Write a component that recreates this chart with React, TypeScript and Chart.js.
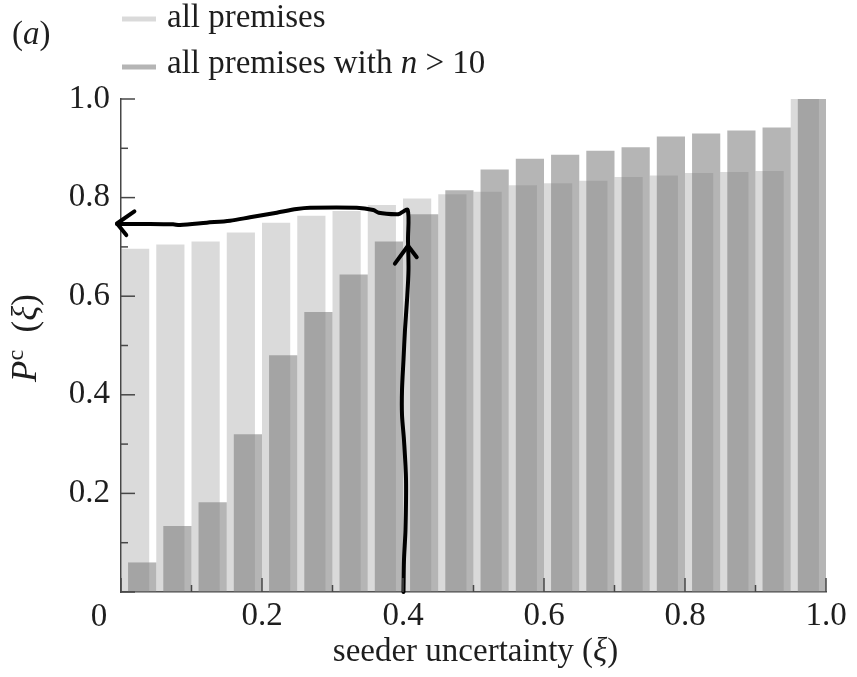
import React, { useEffect, useRef } from 'react';
import { Chart, registerables } from 'chart.js';

Chart.register(...registerables);

// ---- data ----
const binCenters = [
  0.025, 0.075, 0.125, 0.175, 0.225, 0.275, 0.325, 0.375, 0.425, 0.475,
  0.525, 0.575, 0.625, 0.675, 0.725, 0.775, 0.825, 0.875, 0.925, 0.975,
];
const allPremises = [
  0.696, 0.705, 0.711, 0.729, 0.749, 0.763, 0.773, 0.785, 0.798, 0.807,
  0.812, 0.825, 0.829, 0.834, 0.842, 0.845, 0.85, 0.852, 0.854, 1.0,
];
const premisesN10 = [
  0.06, 0.134, 0.182, 0.32, 0.48, 0.568, 0.644, 0.711, 0.766, 0.815,
  0.857, 0.879, 0.887, 0.895, 0.902, 0.924, 0.93, 0.936, 0.942, 1.0,
];
const tickMarks = [0, 0.1, 0.2, 0.3, 0.4, 0.5, 0.6, 0.7, 0.8, 0.9, 1.0];

// hand-drawn arrow annotation (data space)
const arrowX = [
  0.4007, 0.4014, 0.4035, 0.4043, 0.4014, 0.3986, 0.3986, 0.4007, 0.4028, 0.4057,
  0.4078, 0.4071, 0.4067, 0.3957, 0.3911, 0.3655, 0.3579, 0.3343, 0.2681, 0.2492,
  0.2209, 0.183, 0.1546, 0.1216, 0.0837, 0.0738, 0.0411, -0.0057,
];
const arrowY = [
  0.0, 0.0649, 0.1258, 0.2272, 0.3083, 0.359, 0.4097, 0.4706, 0.5314, 0.5923,
  0.6531, 0.714, 0.7748, 0.7677, 0.7661, 0.7694, 0.7748, 0.7795, 0.7795, 0.7769,
  0.7694, 0.76, 0.7531, 0.7491, 0.7444, 0.7458, 0.7465, 0.7465,
];
const leftHeadX = [0.019, -0.0057, 0.0075];
const leftHeadY = [0.772, 0.7475, 0.724];
const upHeadX = [0.3885, 0.4071, 0.4195];
const upHeadY = [0.666, 0.7024, 0.679];

const legendLabels = ['all premises', 'all premises with '];

// ---- styles ----
const SERIF = '"Liberation Serif", "DejaVu Serif", "Times New Roman", serif';
const TEXT = '#1e1e1e';
const AXIS = '#474747';
const LIGHT = 'rgba(118,118,118,0.27)';
const DARK = 'rgba(118,118,118,0.54)';
const FS = 33;

type Run = { t: string; font: string; dy?: number };

function drawRuns(ctx: CanvasRenderingContext2D, runs: Run[], x: number, y: number, align: 'left' | 'center') {
  let total = 0;
  const widths = runs.map((r) => {
    ctx.font = r.font;
    const w = ctx.measureText(r.t).width;
    total += w;
    return w;
  });
  let cx = align === 'center' ? x - total / 2 : x;
  ctx.textAlign = 'left';
  ctx.textBaseline = 'alphabetic';
  runs.forEach((r, i) => {
    ctx.font = r.font;
    ctx.fillText(r.t, cx, y + (r.dy || 0));
    cx += widths[i];
  });
}

const up = (s: number) => `${s}px ${SERIF}`;
const it = (s: number) => `italic ${s}px ${SERIF}`;

const decorPlugin = {
  id: 'decor',
  afterDatasetsDraw(chart: any) {
    const { ctx, chartArea, scales } = chart;
    const xs = scales.x;
    const ys = scales.y;
    ctx.save();
    ctx.strokeStyle = AXIS;
    ctx.lineWidth = 1.5;
    tickMarks.forEach((v, i) => {
      const len = i % 2 === 0 ? 14 : 7;
      const px = xs.getPixelForValue(v);
      ctx.beginPath();
      ctx.moveTo(px, chartArea.bottom);
      ctx.lineTo(px, chartArea.bottom - len);
      ctx.stroke();
      const py = ys.getPixelForValue(v);
      ctx.beginPath();
      ctx.moveTo(chartArea.left, py);
      ctx.lineTo(chartArea.left + len, py);
      ctx.stroke();
    });
    ctx.restore();
  },
  afterDraw(chart: any) {
    const { ctx, chartArea, scales } = chart;
    const xs = scales.x;
    ctx.save();
    ctx.fillStyle = TEXT;
    // origin label
    ctx.font = up(FS);
    ctx.textAlign = 'center';
    ctx.textBaseline = 'alphabetic';
    ctx.fillText('0', xs.getPixelForValue(0) - 22, chartArea.bottom + 34);

    // x title
    drawRuns(
      ctx,
      [
        { t: 'seeder uncertainty (', font: up(FS) },
        { t: 'ξ', font: it(FS) },
        { t: ')', font: up(FS) },
      ],
      (chartArea.left + chartArea.right) / 2 + 2,
      chartArea.bottom + 69,
      'center'
    );

    // y title (rotated)
    ctx.save();
    ctx.translate(36, 338);
    ctx.rotate(-Math.PI / 2);
    drawRuns(
      ctx,
      [
        { t: 'P', font: it(35) },
        { t: 'c', font: up(24), dy: -13 },
        { t: '  (', font: up(35) },
        { t: 'ξ', font: it(35) },
        { t: ')', font: up(35) },
      ],
      0,
      0,
      'center'
    );
    ctx.restore();

    // panel label
    drawRuns(
      ctx,
      [
        { t: '(', font: up(FS) },
        { t: 'a', font: it(FS) },
        { t: ')', font: up(FS) },
      ],
      12,
      44,
      'left'
    );

    // legend
    ctx.lineWidth = 5;
    ctx.strokeStyle = LIGHT;
    ctx.beginPath();
    ctx.moveTo(122, 19);
    ctx.lineTo(156, 19);
    ctx.stroke();
    ctx.strokeStyle = DARK;
    ctx.beginPath();
    ctx.moveTo(122, 67);
    ctx.lineTo(156, 67);
    ctx.stroke();
    ctx.fillStyle = TEXT;
    drawRuns(ctx, [{ t: legendLabels[0], font: up(FS) }], 167, 27, 'left');
    drawRuns(
      ctx,
      [
        { t: legendLabels[1], font: up(FS) },
        { t: 'n', font: it(FS) },
        { t: ' > 10', font: up(FS) },
      ],
      167,
      73,
      'left'
    );
    ctx.restore();
  },
};

export default function App() {
  const ref = useRef<HTMLCanvasElement | null>(null);

  useEffect(() => {
    document.body.style.margin = '0';
    const canvas = ref.current;
    if (!canvas) return;

    const lineStyle = {
      type: 'line' as const,
      borderColor: '#000',
      backgroundColor: '#000',
      borderWidth: 4,
      pointRadius: 0,
      fill: false,
      clip: false as any,
      order: -1,
      borderCapStyle: 'round' as const,
      borderJoinStyle: 'round' as const,
    };

    const chart = new Chart(canvas, {
      type: 'bar',
      data: {
        datasets: [
          {
            label: 'all premises',
            data: binCenters.map((x, i) => ({ x, y: allPremises[i] })),
            backgroundColor: LIGHT,
            borderWidth: 0,
            categoryPercentage: 0.4,
            barPercentage: 4,
          } as any,
          {
            label: 'all premises with n > 10',
            data: binCenters.map((x, i) => ({ x, y: premisesN10[i] })),
            backgroundColor: DARK,
            borderWidth: 0,
            categoryPercentage: 0.4,
            barPercentage: 4,
          } as any,
          {
            ...lineStyle,
            label: 'arrow',
            data: arrowX.map((x, i) => ({ x, y: arrowY[i] })),
            tension: 0.3,
          } as any,
          {
            ...lineStyle,
            label: 'head-left',
            data: leftHeadX.map((x, i) => ({ x, y: leftHeadY[i] })),
            tension: 0,
          } as any,
          {
            ...lineStyle,
            label: 'head-up',
            data: upHeadX.map((x, i) => ({ x, y: upHeadY[i] })),
            tension: 0,
          } as any,
        ],
      },
      options: {
        animation: false,
        responsive: false,
        devicePixelRatio: 1,
        layout: { padding: { top: 99, right: 31, left: 0, bottom: 0 } },
        plugins: {
          legend: { display: false },
          tooltip: { enabled: false },
          title: { display: false },
        },
        scales: {
          x: {
            type: 'linear',
            min: 0,
            max: 1,
            offset: false,
            grid: { display: false, drawTicks: false },
            border: { display: true, color: AXIS, width: 1.5 },
            ticks: {
              stepSize: 0.2,
              padding: 5,
              color: TEXT,
              font: { family: SERIF, size: FS },
              maxRotation: 0,
              callback: (v: any) => (Number(v) === 0 ? '' : Number(v).toFixed(1)),
            },
            afterFit: (s: any) => {
              s.height = 85;
            },
          },
          y: {
            type: 'linear',
            min: 0,
            max: 1,
            grid: { display: false, drawTicks: false },
            border: { display: true, color: AXIS, width: 1.5 },
            ticks: {
              stepSize: 0.2,
              padding: 11,
              color: TEXT,
              font: { family: SERIF, size: FS },
              callback: (v: any) => (Number(v) === 0 ? '' : Number(v).toFixed(1)),
            },
            afterFit: (s: any) => {
              s.width = 121;
            },
          },
        },
      } as any,
      plugins: [decorPlugin],
    });

    return () => chart.destroy();
  }, []);

  return (
    <div style={{ width: 857, height: 677 }}>
      <canvas ref={ref} width={857} height={677} style={{ display: 'block' }} />
    </div>
  );
}
